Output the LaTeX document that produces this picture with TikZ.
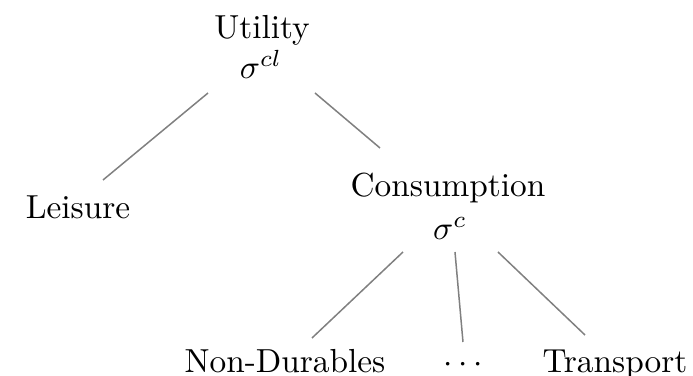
\documentclass[tikz,border=0pt]{standalone}
\begin{document}
\begin{tikzpicture}[x=0.3pt,y=-0.3pt,
  lbl/.style={anchor=base,inner sep=0pt,font=\fontsize{10}{12}\selectfont},
  conn/.style={draw=black!50,line width=0.45pt}]
\useasboundingbox (0,0) rectangle (693,376);
\node[lbl] (util) at (262,38) {Utility};
\node[lbl] (sigcl) at (261,79) {$\sigma^{cl}$};
\node[lbl] (leis) at (78,219) {Leisure};
\node[lbl] (cons) at (448,197) {Consumption};
\node[lbl] (sigc) at (450,240) {$\sigma^{c}$};
\node[lbl] (nondur) at (285,373) {Non-Durables};
\node[lbl] (dots) at (463,373) {$\cdots$};
\node[lbl] (trans) at (615,373) {Transport};
\draw[conn] ([shift={(-53,14)}]sigcl.base) -- ([shift={(25,-39)}]leis.base);
\draw[conn] ([shift={(54,14)}]sigcl.base) -- ([shift={(-68,-49)}]cons.base);
\draw[conn] ([shift={(-47,12)}]sigc.base) -- ([shift={(27,-35)}]nondur.base);
\draw[conn] ([shift={(5,12)}]sigc.base) -- ([shift={(0,-31)}]dots.base);
\draw[conn] ([shift={(48,12)}]sigc.base) -- ([shift={(-30,-38)}]trans.base);
\end{tikzpicture}
\end{document}
